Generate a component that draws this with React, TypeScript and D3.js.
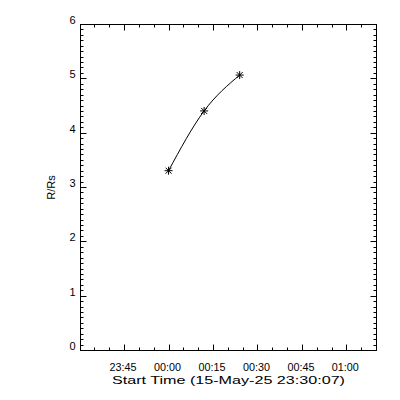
import React from "react";
import * as d3 from "d3";

// observation times (UTC) and heights in solar radii
const times = ["2025-05-16T00:00:00Z", "2025-05-16T00:12:00Z", "2025-05-16T00:24:00Z"];
const heights = [3.3, 4.4, 5.06];
const xDomain = ["2025-05-15T23:30:07Z", "2025-05-16T01:10:00Z"];
const yDomain = [0, 6];
const xTitle = "Start Time (15-May-25 23:30:07)";
const yTitle = "R/Rs";

const W = 400,
  H = 400;
const margin = { left: 80, right: 24, top: 24, bottom: 50 };
const font = "'Liberation Sans', Arial, sans-serif";

export default function App() {
  const x = d3
    .scaleUtc()
    .domain(xDomain.map(d => new Date(d)))
    .range([margin.left, W - margin.right]);
  const y = d3
    .scaleLinear()
    .domain(yDomain)
    .range([H - margin.bottom, margin.top]);

  const x0 = margin.left + 0.5,
    x1 = W - margin.right + 0.5,
    y0 = H - margin.bottom + 0.5,
    y1 = margin.top + 0.5;

  const pts = times.map((t, i) => [x(new Date(t)), y(heights[i])] as [number, number]);

  // fit curve through the points
  const line = d3.line().curve(d3.curveNatural);

  const [d0, d1] = x.domain();
  const minorX = d3.utcMinute.every(5)!.range(d0, d1);
  const majorX = d3.utcMinute.every(15)!.range(d0, d1);
  const minorY = d3.range(0, 61).map(i => i / 10);
  const majorY = y.ticks(6);
  const fmt = d3.utcFormat("%H:%M");

  // all axis ticks as one path, pointing inward on all four sides
  let ticks = "";
  minorY.forEach(v => {
    const len = Math.abs(v - Math.round(v)) < 1e-6 ? 6 : 3;
    const yy = Math.round(y(v)) + 0.5;
    ticks += `M${x0},${yy}h${len}M${x1},${yy}h${-len}`;
  });
  minorX.forEach(t => {
    const len = t.getUTCMinutes() % 15 === 0 ? 6 : 3;
    const xx = Math.round(x(t)) + 0.5;
    ticks += `M${xx},${y0}v${-len}M${xx},${y1}v${len}`;
  });

  return (
    <div style={{ position: "fixed", left: 0, top: 0, background: "#fff" }}>
      <svg width={W} height={H} style={{ display: "block" }} fontFamily={font}>
        <rect width={W} height={H} fill="#fff" />
        <rect x={x0} y={y1} width={x1 - x0} height={y0 - y1} fill="none" stroke="#000" strokeWidth={1} />
        <path d={ticks} fill="none" stroke="#000" strokeWidth={1} />
        <g fontSize={11} fill="#000">
          {majorY.map(v => (
            <text key={v} x={x0 - 5} y={y(v)} textAnchor="end">
              {v}
            </text>
          ))}
          {majorX.map((t, i) => (
            <text key={i} x={x(t) - 1} y={371} textAnchor="middle" textLength={27} lengthAdjust="spacingAndGlyphs">
              {fmt(t)}
            </text>
          ))}
          <text x={(x0 + x1) / 2} y={384} textAnchor="middle" textLength={233} lengthAdjust="spacingAndGlyphs">
            {xTitle}
          </text>
          <text transform={`translate(55,${(y0 + y1) / 2}) rotate(-90)`} textAnchor="middle">
            {yTitle}
          </text>
        </g>
        <path d={line(pts) || ""} fill="none" stroke="#000" strokeWidth={1} />
        {pts.map(([px, py], i) => (
          <g key={i} stroke="#000" strokeWidth={1}>
            <line x1={px - 4} x2={px + 4} y1={py} y2={py} />
            <line x1={px} x2={px} y1={py - 4} y2={py + 4} />
            <line x1={px - 3} x2={px + 3} y1={py - 3} y2={py + 3} />
            <line x1={px - 3} x2={px + 3} y1={py + 3} y2={py - 3} />
          </g>
        ))}
      </svg>
    </div>
  );
}
